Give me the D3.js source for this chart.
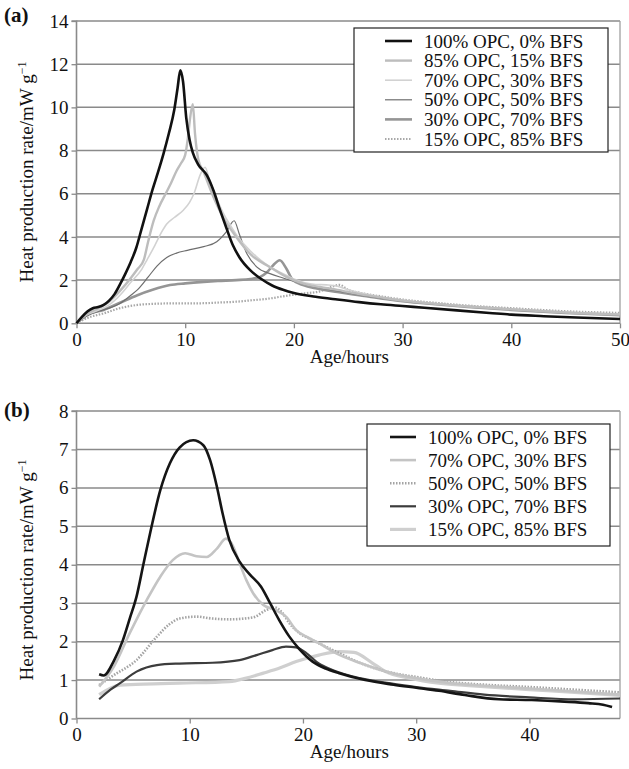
<!DOCTYPE html>
<html><head><meta charset="utf-8">
<script src="https://cdn.jsdelivr.net/npm/d3@7"></script>
<style>body{margin:0;background:#fff;} svg text{font-family:"Liberation Serif","Times New Roman",Times,serif !important;}</style>
</head><body>
<svg id="c" width="629" height="769"></svg>
<script>
// ---------- Panel (a) data: [age h, heat mW/g] ----------
const aLabels = ["100% OPC, 0% BFS","85% OPC, 15% BFS","70% OPC, 30% BFS","50% OPC, 50% BFS","30% OPC, 70% BFS","15% OPC, 85% BFS"];
const aOPC100 = [[0,0],[0.5,0.3],[1,0.55],[1.5,0.7],[2,0.75],[2.5,0.85],[3,1.05],[3.5,1.35],[4,1.8],[4.5,2.3],[5,2.85],[5.5,3.5],[6,4.4],[6.5,5.3],[7,6.2],[7.5,7.0],[8,7.85],[8.5,8.8],[9,9.9],[9.3,10.9],[9.55,11.72],[9.8,11.2],[10.1,9.5],[10.4,8.5],[10.7,7.9],[11.2,7.35],[12,6.85],[12.6,6.15],[13.2,5.25],[13.8,4.4],[14.4,3.6],[15,3.05],[16,2.45],[17,2.05],[18,1.75],[19,1.55],[20,1.4],[22,1.23],[24,1.1],[26,0.98],[28,0.88],[30,0.8],[32,0.72],[35,0.6],[38,0.48],[40,0.4],[43,0.33],[46,0.27],[50,0.2]];
const aOPC85 = [[0,0],[1,0.45],[2,0.7],[3,1.0],[4,1.5],[5,2.1],[5.6,2.5],[6.2,2.95],[6.6,3.8],[7.1,4.75],[7.6,5.4],[8.2,6.0],[8.7,6.5],[9.2,7.05],[9.6,7.4],[10,7.8],[10.25,8.6],[10.45,9.5],[10.7,10.15],[10.9,8.8],[11.2,7.6],[11.7,7.0],[12.6,5.85],[13.5,4.9],[14.7,4.0],[16,3.2],[17.8,2.6],[19.3,2.15],[20.8,1.85],[22.4,1.68],[24,1.55],[26,1.35],[28,1.2],[30,1.05],[33,0.9],[36,0.78],[40,0.65],[45,0.5],[50,0.4]];
const aOPC70 = [[0,0],[1,0.4],[2,0.6],[3,0.85],[4,1.3],[5,1.9],[6,2.5],[6.5,2.95],[7.2,3.6],[7.8,4.2],[8.3,4.6],[9,4.9],[9.85,5.25],[10.4,5.6],[10.8,6.0],[11.4,6.9],[11.83,7.23],[12.2,6.7],[12.8,5.9],[13.5,5.1],[14.2,4.5],[15,3.9],[16,3.35],[17,2.9],[18,2.55],[19,2.3],[20,2.05],[21,1.88],[22,1.8],[23,1.78],[24,1.72],[25,1.55],[26,1.42],[28,1.22],[30,1.08],[33,0.92],[36,0.8],[40,0.66],[45,0.52],[50,0.42]];
const aOPC50 = [[0,0],[1,0.35],[2,0.55],[3,0.7],[4,0.92],[5,1.3],[5.6,1.55],[6.6,2.15],[7.4,2.65],[8.3,3.05],[9.2,3.25],[10.2,3.38],[11.7,3.55],[12.9,3.78],[13.8,4.25],[14.5,4.75],[15,4.1],[15.6,3.3],[16.6,2.6],[17.8,2.3],[19,2.1],[20,1.95],[21,1.8],[22,1.68],[24,1.5],[26,1.32],[28,1.18],[30,1.05],[33,0.9],[36,0.78],[40,0.64],[45,0.5],[50,0.4]];
const aOPC30 = [[0,0],[1,0.4],[2.5,0.62],[4,0.95],[5.6,1.3],[7,1.55],[8.6,1.77],[10,1.85],[11.7,1.92],[13,1.96],[14.7,2.0],[16,2.05],[16.9,2.15],[17.5,2.35],[18.1,2.69],[18.7,2.92],[19.3,2.54],[19.9,2.0],[20.85,1.77],[22.1,1.61],[24,1.45],[26,1.3],[28,1.15],[30,1.02],[33,0.88],[36,0.76],[40,0.62],[45,0.48],[50,0.38]];
const aOPC15 = [[0,0],[1,0.25],[2.5,0.46],[4,0.7],[5.6,0.85],[7,0.9],[8.6,0.92],[10,0.92],[11.7,0.93],[13,0.96],[14.7,1.0],[16,1.06],[17.8,1.15],[19,1.25],[20.85,1.38],[22.4,1.48],[23.5,1.7],[24.2,1.78],[25,1.55],[26,1.42],[28,1.25],[30,1.1],[33,0.95],[36,0.82],[40,0.7],[45,0.56],[50,0.48]];
const aXTicks = [0,10,20,30,40,50];
const aYTicks = [0,2,4,6,8,10,12,14];

// ---------- Panel (b) data ----------
const bLabels = ["100% OPC, 0% BFS","70% OPC, 30% BFS","50% OPC, 50% BFS","30% OPC, 70% BFS","15% OPC, 85% BFS"];
const bOPC100 = [[2,1.15],[2.4,1.12],[3.3,1.5],[4.1,2.04],[4.7,2.6],[5.3,3.17],[5.9,4.0],[6.5,4.82],[7.4,5.94],[8.25,6.64],[9.1,7.05],[10.3,7.24],[11.2,7.11],[11.8,6.72],[12.4,6.03],[12.9,5.34],[13.5,4.64],[14.4,4.08],[15.3,3.75],[16.3,3.43],[17.1,3.0],[17.9,2.56],[18.8,2.13],[19.7,1.8],[20.85,1.48],[22,1.3],[23.2,1.18],[25.5,1.0],[28,0.88],[30,0.8],[32,0.72],[34.3,0.61],[37.3,0.5],[40.2,0.48],[43.1,0.44],[45.2,0.4],[46.5,0.36],[47.3,0.3]];
const bOPC70 = [[2,0.83],[3.3,1.35],[4.7,2.22],[6.2,3.08],[7.4,3.69],[8.5,4.12],[9.6,4.3],[10.6,4.22],[11.5,4.2],[12.4,4.42],[13.2,4.68],[13.8,4.5],[14.4,4.04],[15,3.6],[15.6,3.26],[16.5,2.95],[17.6,2.82],[18.5,2.65],[19.4,2.3],[20.3,2.13],[21.4,1.96],[22.9,1.7],[25,1.45],[27,1.25],[30,1.05],[33,0.92],[36,0.85],[40,0.78],[44,0.7],[48,0.62]];
const bOPC50 = [[2,0.87],[3.3,1.13],[5.3,1.52],[7.1,2.13],[8.2,2.45],[9.1,2.6],[10.6,2.65],[12,2.6],[13.5,2.58],[15.6,2.63],[16.75,2.82],[17.5,2.89],[18.2,2.74],[18.8,2.48],[19.7,2.22],[20.85,2.04],[22,1.87],[23.2,1.7],[25,1.45],[27,1.25],[30,1.08],[33,0.95],[36,0.88],[40,0.82],[44,0.75],[48,0.68]];
const bOPC30 = [[2,0.5],[3,0.75],[3.85,0.92],[5.3,1.22],[7.1,1.39],[9.1,1.43],[12,1.45],[14.4,1.52],[15.9,1.65],[17.3,1.78],[18.5,1.87],[19.4,1.85],[20.3,1.7],[21.4,1.43],[22.6,1.26],[25,1.05],[28,0.9],[30,0.82],[33,0.72],[36,0.62],[40,0.55],[44,0.5],[48,0.52]];
const bOPC15 = [[2,0.62],[3.85,0.87],[6.8,0.9],[9.1,0.92],[13.5,0.96],[15,1.05],[16.5,1.18],[18,1.32],[19.4,1.48],[21.4,1.65],[23.2,1.74],[24.5,1.72],[26.1,1.45],[27.3,1.22],[29.4,1.05],[32,0.92],[35,0.85],[40,0.75],[44,0.68],[48,0.6]];
const bXTicks = [0,10,20,30,40];
const bYTicks = [0,1,2,3,4,5,6,7,8];

const styleA = [
  {c:"#111", w:2.6, d:null},
  {c:"#bdbdbd", w:2.4, d:null},
  {c:"#d2d2d2", w:1.6, d:null},
  {c:"#6e6e6e", w:1.2, d:null},
  {c:"#959595", w:2.6, d:null},
  {c:"#a8a8a8", w:2.2, d:"1.5,1.5"}
];
const styleB = [
  {c:"#151515", w:2.6, d:null},
  {c:"#c4c4c4", w:2.6, d:null},
  {c:"#a4a4a4", w:2.6, d:"1.5,1.5"},
  {c:"#3c3c3c", w:2.2, d:null},
  {c:"#cfcfcf", w:3.2, d:null}
];

const svg = d3.select("#c");
const GRID = "#8a8a8a";
const SERIF = '"Liberation Serif","Times New Roman",Times,serif';

function panel(o){
  const g = svg.append("g").attr("font-family", SERIF);
  const x = d3.scaleLinear().domain(o.xDomain).range([o.left, o.right]);
  const y = d3.scaleLinear().domain(o.yDomain).range([o.bottom, o.top]);
  g.selectAll(".grid").data(o.yTicks.filter(v=>v>0)).enter().append("line")
    .attr("x1", o.left).attr("x2", o.right).attr("y1", d=>y(d)).attr("y2", d=>y(d))
    .attr("stroke", GRID).attr("stroke-width", 1.5);
  g.append("line").attr("x1", o.right).attr("x2", o.right).attr("y1", o.top).attr("y2", o.bottom)
    .attr("stroke", "#a0a0a0").attr("stroke-width", 1.3);
  const ya = g.append("g").attr("transform", `translate(${o.left},0)`)
    .call(d3.axisLeft(y).tickValues(o.yTicks).tickSize(5).tickPadding(3).tickFormat(d3.format("d")));
  const xa = g.append("g").attr("transform", `translate(0,${o.bottom})`)
    .call(d3.axisBottom(x).tickValues(o.xTicks).tickSize(5).tickPadding(4).tickFormat(d3.format("d")));
  [ya, xa].forEach(a=>{
    a.attr("font-family", SERIF).attr("font-size", 19);
    a.select(".domain").attr("stroke", GRID).attr("stroke-width", 1.6);
    a.selectAll(".tick line").attr("stroke", GRID).attr("stroke-width", 1.3);
    a.selectAll(".tick text").attr("fill", "#111");
  });
  ya.select(".domain").attr("d", `M-5,${o.top}H0V${o.bottom}`);
  xa.select(".domain").attr("d", `M${o.left},0H${o.right}`);
  const line = d3.line().x(d=>x(d[0])).y(d=>y(d[1])).curve(d3.curveMonotoneX);
  o.drawOrder.forEach(i=>{
    const s = o.styles[i];
    g.append("path").datum(o.series[i]).attr("d", line)
      .attr("fill","none").attr("stroke", s.c).attr("stroke-width", s.w)
      .attr("stroke-linejoin","round")
      .attr("stroke-dasharray", s.d);
  });
  g.append("text").attr("x", (o.left+o.right)/2 + 1).attr("y", o.xTitleY).attr("text-anchor","middle")
    .attr("font-size",19).attr("fill","#111").text("Age/hours");
  const yt = g.append("text").attr("transform", `translate(${o.yTitleX},${o.yTitleCY}) rotate(-90)`)
    .attr("text-anchor","middle").attr("font-size",19).attr("fill","#111");
  yt.append("tspan").text("Heat production rate/mW g");
  yt.append("tspan").attr("dy", -7).attr("font-size",12).text("\u22121");
  g.append("text").attr("x", 4).attr("y", o.labelY).attr("font-size",21).attr("font-weight","bold")
    .attr("fill","#111").text(o.label);
  const L = o.legend;
  const lg = g.append("g");
  lg.append("rect").attr("x", L.x).attr("y", L.y).attr("width", L.w).attr("height", L.h)
    .attr("fill","#fff").attr("stroke","#222").attr("stroke-width",1.2);
  o.labels.forEach((lab,i)=>{
    const cy = L.y + L.first + i*L.step;
    const s = o.styles[i];
    lg.append("line").attr("x1", L.lx1).attr("x2", L.lx2).attr("y1", cy).attr("y2", cy)
      .attr("stroke", s.c).attr("stroke-width", s.w).attr("stroke-dasharray", s.d);
    lg.append("text").attr("x", L.tx).attr("y", cy + 6.5).attr("font-size",19).attr("fill","#111").text(lab);
  });
}

panel({
  label:"(a)", labelY:22,
  xDomain:[0,50], yDomain:[0,14], left:76.5, right:620, top:21, bottom:323.3,
  xTicks:aXTicks, yTicks:aYTicks,
  series:[aOPC100,aOPC85,aOPC70,aOPC50,aOPC30,aOPC15], styles:styleA, labels:aLabels,
  drawOrder:[5,4,3,2,1,0],
  xTitleY:363, yTitleX:33, yTitleCY:172,
  legend:{x:354, y:28, w:254, h:124, first:13, step:19.6, lx1:385, lx2:412, tx:424}
});
panel({
  label:"(b)", labelY:417,
  xDomain:[0,48], yDomain:[0,8], left:76.5, right:620, top:411, bottom:718.5,
  xTicks:bXTicks, yTicks:bYTicks,
  series:[bOPC100,bOPC70,bOPC50,bOPC30,bOPC15], styles:styleB, labels:bLabels,
  drawOrder:[4,2,1,3,0],
  xTitleY:758, yTitleX:33, yTitleCY:570,
  legend:{x:367, y:424, w:243, h:122, first:13, step:23.1, lx1:390, lx2:416, tx:428}
});
</script>
</body></html>
